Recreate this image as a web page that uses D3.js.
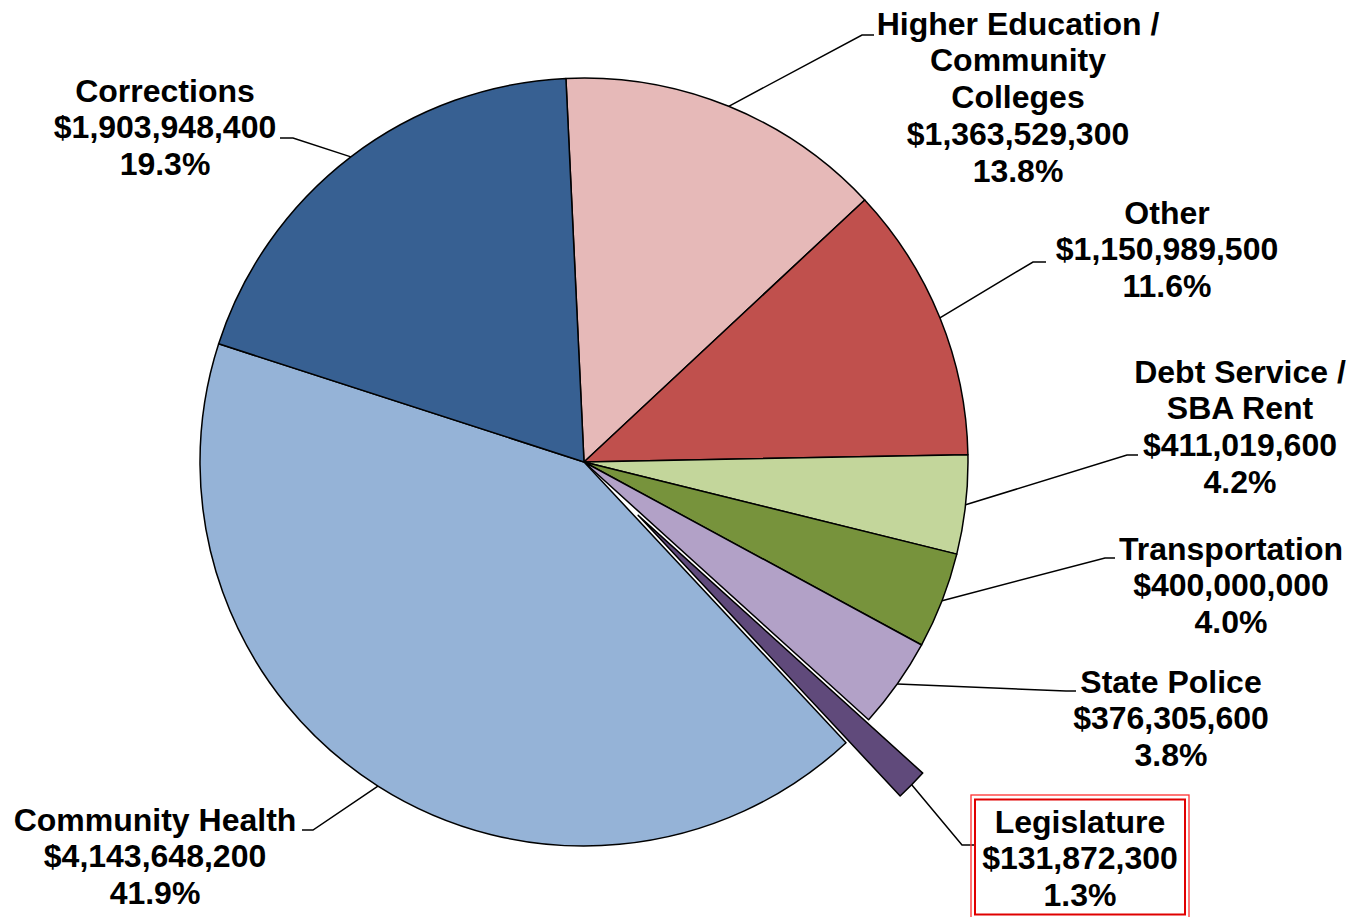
<!DOCTYPE html>
<html>
<head>
<meta charset="utf-8">
<script src="https://cdn.jsdelivr.net/npm/d3@7"></script>
<style>
  body { margin: 0; background: #fff; }
  text { font-family: Arial, "Liberation Sans", sans-serif; font-weight: bold; fill: #000; }
</style>
</head>
<body>
<div id="pieChart"></div>
<script>
// 1: DATA
const categoryLines = [
    ["Higher Education /", "Community", "Colleges"],
    ["Other"],
    ["Debt Service /", "SBA Rent"],
    ["Transportation"],
    ["State Police"],
    ["Legislature"],
    ["Community Health"],
    ["Corrections"]
];
const categories = categoryLines.map(l => l.join(" "));
const values = [1363529300, 1150989500, 411019600, 400000000, 376305600, 131872300, 4143648200, 1903948400];
const colors = ["#E6B9B8", "#C0504D", "#C3D69B", "#77933C", "#B2A1C7", "#604A7B", "#95B3D7", "#376092"];
const explodedCategory = "Legislature";

// 2: LAYOUT (label anchors, elbow of leader, end of leader)
const labelLayout = {
    "Higher Education / Community Colleges": { x: 1018, y: 23, elbow: [862, 35], end: [874, 35] },
    "Other": { x: 1167, y: 212, elbow: [1033, 262], end: [1046, 262] },
    "Debt Service / SBA Rent": { x: 1240, y: 371, elbow: [1127, 455], end: [1138, 455] },
    "Transportation": { x: 1231, y: 548, elbow: [1105, 558], end: [1115, 558] },
    "State Police": { x: 1171, y: 681, elbow: [1066, 691], end: [1076, 691] },
    "Legislature": { x: 1080, y: 821, elbow: [962, 845], end: [974, 845], box: true },
    "Community Health": { x: 155, y: 819, elbow: [313, 830], end: [302, 830] },
    "Corrections": { x: 165, y: 90, elbow: [293, 138], end: [280, 138] }
};

const W = 1353, H = 917;
const cx = 584, cy = 462, radius = 384;
const explodeDist = 76;
const lineH = 36.8;
const startAngle = -2.7 * Math.PI / 180;

const svg = d3.select("#pieChart")
    .append("svg")
    .attr("width", W)
    .attr("height", H);

const g = svg.append("g").attr("transform", `translate(${cx},${cy})`);

// 3: PIE
const total = d3.sum(values);
const data = categories.map((c, i) => ({ category: c, lines: categoryLines[i], value: values[i], color: colors[i] }));

const pie = d3.pie()
    .sort(null)
    .value(d => d.value)
    .startAngle(startAngle)
    .endAngle(startAngle + 2 * Math.PI);

const arc = d3.arc().innerRadius(0).outerRadius(radius);
const arcs = pie(data);

// exploded slice is pushed out along its bisector
const offset = d => {
    if (d.data.category !== explodedCategory) return [0, 0];
    const a = (d.startAngle + d.endAngle) / 2;
    return [explodeDist * Math.sin(a), -explodeDist * Math.cos(a)];
};

g.selectAll("path.slice")
    .data(arcs)
    .enter()
    .append("path")
    .attr("class", "slice")
    .attr("d", arc)
    .attr("transform", d => `translate(${offset(d)[0]},${offset(d)[1]})`)
    .style("fill", d => d.data.color)
    .style("stroke", "#000")
    .style("stroke-width", 1.5)
    .style("stroke-linejoin", "round");

// 4: LEADER LINES
const fmtMoney = d3.format("$,");
const fmtPct = d3.format(".1%");

arcs.forEach(d => {
    const L = labelLayout[d.data.category];
    const a = (d.startAngle + d.endAngle) / 2;
    const o = offset(d);
    const sx = cx + o[0] + radius * Math.sin(a);
    const sy = cy + o[1] - radius * Math.cos(a);
    svg.append("polyline")
        .attr("points", [[sx, sy], L.elbow, L.end].map(p => p.join(",")).join(" "))
        .style("fill", "none")
        .style("stroke", "#000")
        .style("stroke-width", 1.5);
});

// 5: LABELS
arcs.forEach(d => {
    const L = labelLayout[d.data.category];
    const lines = d.data.lines.concat([fmtMoney(d.data.value), fmtPct(d.data.value / total)]);
    const t = svg.append("text")
        .attr("text-anchor", "middle")
        .style("font-size", "32px");
    lines.forEach((s, i) => {
        t.append("tspan")
            .attr("x", L.x)
            .attr("y", L.y + i * lineH)
            .attr("dy", "0.36em")
            .text(s);
    });
    if (L.box) {
        // double red frame round the highlighted label
        svg.append("rect")
            .attr("x", 971).attr("y", 795)
            .attr("width", 218).attr("height", 126)
            .style("fill", "none").style("stroke", "#ff3030").style("stroke-width", 1.3);
        svg.append("rect")
            .attr("x", 975).attr("y", 799.5)
            .attr("width", 210).attr("height", 115)
            .style("fill", "none").style("stroke", "#e00000").style("stroke-width", 2);
    }
});
</script>
</body>
</html>
